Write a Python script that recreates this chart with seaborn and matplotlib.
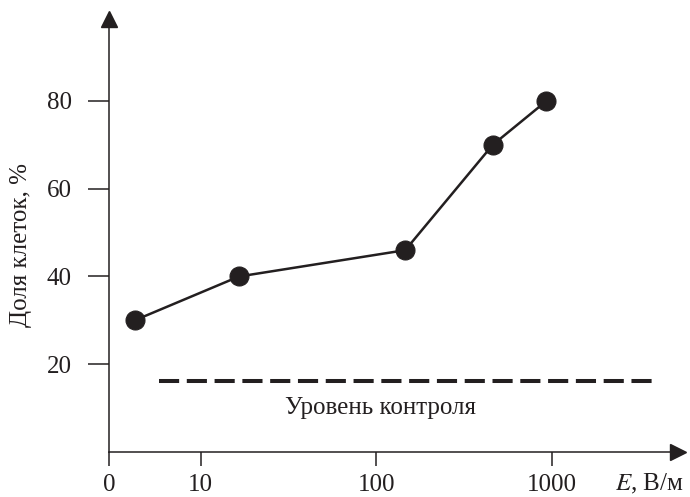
import matplotlib
matplotlib.use('Agg')
import matplotlib.pyplot as plt
import seaborn as sns
import pandas as pd

# ---- data ----
field_strength = [4.2, 16.5, 146, 460, 930]      # E, V/m
cell_share = [30, 40, 46, 70, 80]                 # %
control_level = 16.2
control_span = [5.8, 3900]
control_label = "Уровень контроля"
control_label_pos = (105, 10)
x_tick_values = [3, 10, 100, 1000]
x_tick_labels = ['0', '10', '100', '1000']
y_tick_values = [20, 40, 60, 80]
y_tick_labels = ['20', '40', '60', '80']
x_limits = (3, 5224)
y_limits = (0, 98.8)
x_label = '$E$, В/м'
x_label_at = 3580
y_label = 'Доля клеток, %'

sns.set_style('ticks')
plt.rcParams['font.family'] = ['Liberation Serif', 'DejaVu Serif']
plt.rcParams['mathtext.fontset'] = 'stix'
ink = '#231f20'
fs = 18

fig = plt.figure(figsize=(6.9, 4.97), dpi=100)
ax = fig.add_axes([109/690, 45/497, 569/690, 433.5/497])
ax.set_xscale('log')

df = pd.DataFrame({'E': field_strength, 'share': cell_share})
sns.lineplot(data=df, x='E', y='share', ax=ax, color=ink, lw=1.8,
             marker='o', markersize=13.7, markeredgecolor=ink,
             markerfacecolor=ink, clip_on=False)

ax.plot(control_span, [control_level, control_level], color=ink, lw=2.9,
        linestyle=(0, (5, 1.9)), dash_capstyle='butt')
ax.text(control_label_pos[0], control_label_pos[1], control_label,
        ha='center', va='center', fontsize=fs, color=ink)

ax.set_xlim(*x_limits)
ax.set_ylim(*y_limits)
ax.set_xticks(x_tick_values)
ax.set_xticklabels(x_tick_labels)
ax.xaxis.set_minor_locator(matplotlib.ticker.NullLocator())
ax.set_yticks(y_tick_values)
ax.set_yticklabels(y_tick_labels)

for s in ['top', 'right']:
    ax.spines[s].set_visible(False)
for s in ['left', 'bottom']:
    ax.spines[s].set_color(ink)
    ax.spines[s].set_linewidth(1.1)

ax.tick_params(axis='x', direction='out', length=10, width=1.1, pad=6,
               labelsize=fs, colors=ink)
ax.tick_params(axis='y', direction='out', length=15, width=1.1, pad=12,
               labelsize=fs, colors=ink)

ax.set_xlabel('')
ax.set_ylabel(y_label, fontsize=fs, color=ink)
ax.yaxis.set_label_coords(-0.135, 0.4775)

ax.annotate(x_label, xy=(x_label_at, 0), xycoords=('data', 'axes fraction'),
            xytext=(0, -14.5), textcoords='offset points',
            ha='center', va='top', fontsize=fs, color=ink)

# axis arrows
ax.plot([0], [1], marker='^', ms=12, color=ink, transform=ax.transAxes,
        clip_on=False)
ax.plot([1], [0], marker='>', ms=12, color=ink, transform=ax.transAxes,
        clip_on=False)

fig.savefig('out.png', dpi=100)
